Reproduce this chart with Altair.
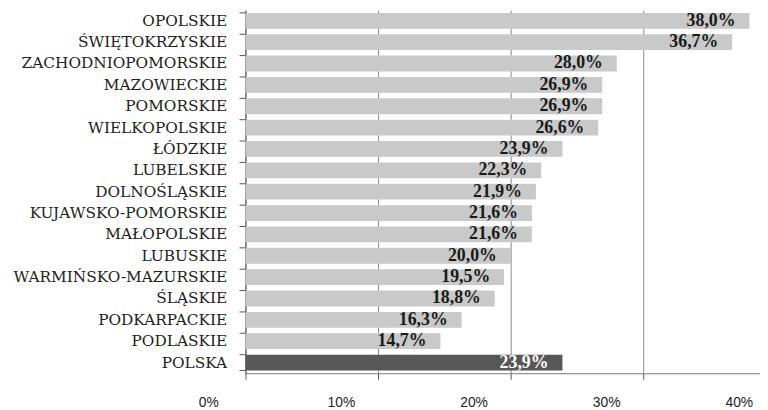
import altair as alt
import pandas as pd

regions = ["OPOLSKIE", "ŚWIĘTOKRZYSKIE", "ZACHODNIOPOMORSKIE", "MAZOWIECKIE",
           "POMORSKIE", "WIELKOPOLSKIE", "ŁÓDZKIE", "LUBELSKIE", "DOLNOŚLĄSKIE",
           "KUJAWSKO-POMORSKIE", "MAŁOPOLSKIE", "LUBUSKIE", "WARMIŃSKO-MAZURSKIE",
           "ŚLĄSKIE", "PODKARPACKIE", "PODLASKIE", "POLSKA"]
values = [38.0, 36.7, 28.0, 26.9, 26.9, 26.6, 23.9, 22.3, 21.9, 21.6, 21.6,
          20.0, 19.5, 18.8, 16.3, 14.7, 23.9]
tick_values = [0, 0.1, 0.2, 0.3, 0.4]
tick_labels = ["0%", "10%", "20%", "30%", "40%"]

df = pd.DataFrame({
    "region": regions,
    "value": [v / 100 for v in values],
    "label": [f"{v:.1f}%".replace(".", ",") for v in values],
})
ticks_df = pd.DataFrame({"value": tick_values, "label": tick_labels})

yscale = alt.Scale(paddingInner=0.26, paddingOuter=0.13)
xscale = alt.Scale(domain=[0, 0.388], nice=False, zero=False, clamp=False)

y_enc = alt.Y("region:N", sort=regions, scale=yscale,
              axis=alt.Axis(title=None, ticks=False, grid=False,
                            labelFont="DejaVu Serif", labelFontSize=15.5,
                            labelColor="#222", labelPadding=19, labelLimit=0,
                            domainColor="#555", domainWidth=1))
x_enc = alt.X("value:Q", scale=xscale,
              axis=alt.Axis(values=tick_values, title=None, labels=False,
                            grid=True, gridColor="#8a8a8a", gridWidth=1,
                            tickSize=6, tickColor="#555", domainColor="#777"))

base = alt.Chart(df)

bars = base.mark_bar().encode(
    x=x_enc,
    y=y_enc,
    color=alt.condition(alt.datum.region == "POLSKA",
                        alt.value("#575757"), alt.value("#c9c9c9")),
)

text = base.mark_text(align="right", baseline="middle", dx=-14,
                      font="Liberation Serif", fontSize=18,
                      fontWeight="bold").encode(
    x=alt.X("value:Q"),
    y=alt.Y("region:N", sort=regions),
    text="label:N",
    color=alt.condition(alt.datum.region == "POLSKA",
                        alt.value("#ffffff"), alt.value("#1a1a1a")),
)

yticks = base.mark_rule(color="#555", strokeWidth=1).encode(
    y=alt.Y("region:N", sort=regions, bandPosition=0),
    x=alt.value(-6), x2=alt.value(0),
)
ytick_last = base.transform_filter(alt.datum.region == "POLSKA").mark_rule(
    color="#555", strokeWidth=1).encode(
    y=alt.Y("region:N", sort=regions, bandPosition=1),
    x=alt.value(-6), x2=alt.value(0),
)

xlabels = alt.Chart(ticks_df).mark_text(
    align="center", baseline="middle", dx=-37, dy=30,
    font="Liberation Sans", fontSize=14, color="#222").encode(
    x=alt.X("value:Q"),
    y=alt.value(367),
    text="label:N",
)

chart = alt.layer(bars, text, yticks, ytick_last, xlabels).properties(
    width=520, height=367,
    autosize=alt.AutoSizeParams(type="none"),
    padding={"left": 240, "top": 0, "right": 0, "bottom": 34},
    background="white",
).configure_view(stroke=None)

chart.save("out.html", embed_options={"renderer": "svg", "actions": False})
